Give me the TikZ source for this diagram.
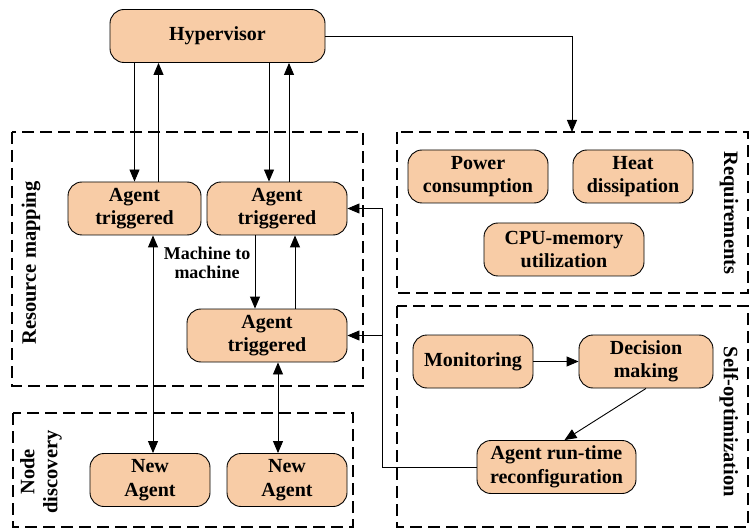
\documentclass[tikz,border=0pt]{standalone}
\usepackage{fontspec}
\setmainfont{Liberation Serif}
\usepackage{tikz}
\usetikzlibrary{positioning, arrows.meta, calc}
\definecolor{boxcolor}{RGB}{248, 204, 166}

\begin{document}
\begin{tikzpicture}[
    x=1pt, y=-1pt,
    agent/.style={rectangle, draw, line width=0.9pt, rounded corners=14pt, fill=boxcolor, minimum height=53pt, align=center, font=\fontsize{20}{23.5}\selectfont\bfseries, inner sep=1pt},
    group/.style={draw, line width=1.6pt, dash pattern=on 12pt off 6pt},
    grouplabel/.style={font=\fontsize{20.5}{23}\selectfont\bfseries, align=center},
    arrow/.style={-{Triangle[length=12pt, width=10pt]}, line width=0.9pt},
    both/.style={{Triangle[length=12pt, width=10pt]}-{Triangle[length=12pt, width=10pt]}, line width=0.9pt},
]
\useasboundingbox (0,0) rectangle (752,529);

% Dashed groups
\draw[group] (12,132) rectangle (363,386);
\draw[group] (13,413) rectangle (353,527);
\draw[group] (397,132) rectangle (748,293);
\draw[group] (397,306) rectangle (748,527);

\node[grouplabel, rotate=90] (resmap) at (31,263) {Resource mapping};
\node[grouplabel, rotate=90] (nodedisc) at (41,472) {Node\\discovery};
\node[grouplabel, rotate=-90] (req) at (729,213) {Requirements};
\node[grouplabel, rotate=-90] (selfopt) at (729,422) {Self-optimization};

% Hypervisor
\node[agent, minimum width=215pt] (hyp) at (217.5,36) {Hypervisor};

% Resource mapping
\node[agent, minimum width=133pt] (a1) at (134.5,208.5) {Agent\\triggered};
\node[agent, minimum width=140pt] (a2) at (277,208.5) {Agent\\triggered};
\node[agent, minimum width=160pt] (a3) at (267,335.5) {Agent\\triggered};
\node[font=\fontsize{18}{19.5}\selectfont\bfseries, align=center] (m2m) at (207,263) {Machine to\\machine};

% Node discovery
\node[agent, minimum width=120pt] (n1) at (150,480) {New\\Agent};
\node[agent, minimum width=120pt] (n2) at (287,480) {New\\Agent};

% Requirements
\node[agent, minimum width=140pt] (power) at (478,176.5) {Power\\consumption};
\node[agent, minimum width=120pt] (heat) at (633,176.5) {Heat\\dissipation};
\node[agent, minimum width=160pt] (cpu) at (564,249.5) {CPU-memory\\utilization};

% Self-optimization
\node[agent, minimum width=120pt] (mon) at (473,361.5) {Monitoring};
\node[agent, minimum width=134pt] (dec) at (646,361.5) {Decision\\making};
\node[agent, minimum width=159pt] (reconf) at (556.5,467) {Agent run-time\\reconfiguration};

% Arrows
\draw[arrow] (hyp.south -| a1.north) -- (a1.north);
\draw[arrow] ($(a1.north)+(24,0)$) -- ($(hyp.south -| a1.north)+(24,0)$);
\draw[arrow] ($(hyp.south -| a2.north)+(-8,0)$) -- ($(a2.north)+(-8,0)$);
\draw[arrow] ($(a2.north)+(12,0)$) -- ($(hyp.south -| a2.north)+(12,0)$);
\draw[arrow] ($(a2.south)+(-22,0)$) -- ($(a3.north -| a2.south)+(-22,0)$);
\draw[arrow] ($(a3.north -| a2.south)+(18,0)$) -- ($(a2.south)+(18,0)$);
\draw[both] ($(a1.south)+(18.5,0)$) -- ($(n1.north)+(3,0)$);
\draw[both] ($(a3.south)+(11,0)$) -- ($(n2.north)+(-9,0)$);
\draw[arrow] (hyp.east) -| (572,132);
\draw[arrow] (mon) -- (dec);
\draw[arrow] (dec.south) -- ($(reconf.north)+(8,0)$);
\draw[arrow] (reconf.west) -- (382,467) |- (a2.east);
\draw[arrow] (382,335.5) -- (a3.east);

\end{tikzpicture}
\end{document}
